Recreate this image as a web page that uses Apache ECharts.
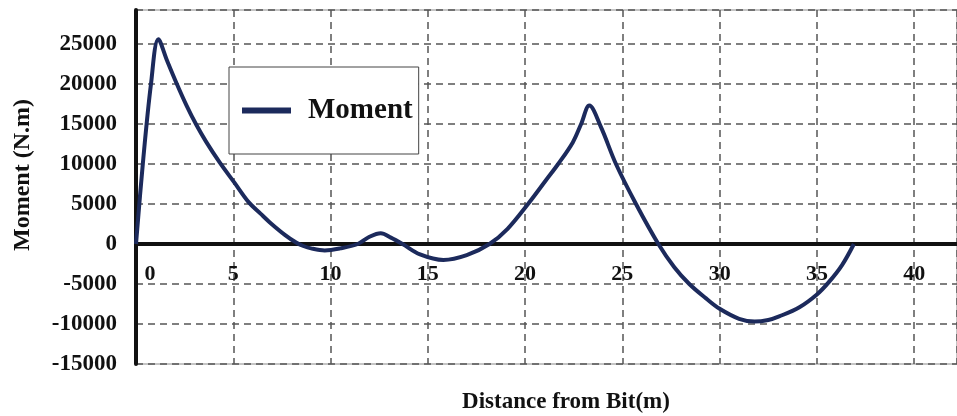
<!DOCTYPE html>
<html>
<head>
<meta charset="utf-8">
<script src="https://cdn.jsdelivr.net/npm/echarts@6/dist/echarts.min.js"></script>
<style>
html,body{margin:0;padding:0;background:#fff;}
#chart{width:957px;height:416px;}
</style>
</head>
<body>
<div id="chart"></div>
<script>
var seriesName = 'Moment';
var xTitle = 'Distance from Bit(m)';
var yTitle = 'Moment (N.m)';
var distance = [0, 0.35, 0.77, 1.15, 1.6, 2.1, 2.6, 3.1, 3.6, 4.3, 5.05, 5.8, 6.4, 6.88, 7.65, 8.25, 8.6, 9.0, 9.7, 10.5, 11.4, 12.0, 12.58, 13.1, 13.7, 14.6, 15.8, 17.0, 18.17, 19.1, 20.15, 21.08, 21.7, 22.45, 22.88, 23.3, 23.9, 24.67, 25.7, 26.85, 27.67, 28.44, 29.3, 30.0, 31.0, 31.8, 32.5, 33.06, 34.1, 35.0, 35.6, 36.3, 36.9];
var moment = [0, 10000, 20000, 25600, 22900, 20000, 17300, 14900, 12800, 10200, 7700, 5200, 3800, 2700, 1150, 150, -250, -550, -800, -550, 0, 900, 1350, 800, 0, -1300, -2000, -1400, 0, 1900, 5000, 8000, 10000, 12700, 15000, 17300, 14600, 10000, 5000, 0, -2900, -5000, -6800, -8100, -9350, -9700, -9500, -9050, -7900, -6300, -4800, -2600, 0];
var xTicks = [0, 5, 10, 15, 20, 25, 30, 35, 40];
var yTicks = [-15000, -10000, -5000, 0, 5000, 10000, 15000, 20000, 25000];

var points = distance.map(function (d, i) { return [d, moment[i]]; });
var serif = "'Liberation Serif', 'Times New Roman', serif";

var chart = echarts.init(document.getElementById('chart'), null, {renderer: 'canvas'});
chart.setOption({
  backgroundColor: '#fff',
  animation: false,
  grid: {
    left: 136, top: 10, right: -1, bottom: 52,
    show: true, borderColor: '#8a8a8a', borderWidth: 1, backgroundColor: 'transparent'
  },
  legend: {
    data: [seriesName],
    left: 229, top: 67,
    orient: 'vertical',
    padding: [29, 6, 29, 13],
    borderColor: '#444', borderWidth: 1,
    backgroundColor: '#fff',
    itemWidth: 49, itemHeight: 6,
    icon: 'rect',
    textStyle: {fontFamily: serif, fontWeight: 'bold', fontSize: 29, color: '#111', padding: [0, 0, 0, 12]}
  },
  xAxis: {
    type: 'value',
    min: 0, max: 42.2, interval: 5,
    axisLine: {onZero: true, lineStyle: {color: '#111', width: 4}},
    axisTick: {show: false},
    splitLine: {show: true, lineStyle: {color: '#555', width: 1.5, type: [7, 5]}},
    axisLabel: {
      showMaxLabel: false,
      margin: -101,
      fontFamily: serif, fontWeight: 'bold', fontSize: 22, color: '#111',
      formatter: function (v) {
        if (xTicks.indexOf(v) < 0) return '';
        return v === 0 ? '{z|0}' : String(v);
      },
      rich: {z: {fontFamily: serif, fontWeight: 'bold', fontSize: 22, color: '#111', padding: [0, 0, 0, 28]}}
    }
  },
  yAxis: {
    type: 'value',
    min: -15000, max: 29250, interval: 5000,
    axisLine: {show: true, onZero: false, lineStyle: {color: '#111', width: 4}},
    axisTick: {show: false},
    splitLine: {show: true, lineStyle: {color: '#555', width: 1.5, type: [7, 5]}},
    axisLabel: {
      showMaxLabel: false,
      margin: 19,
      fontFamily: serif, fontWeight: 'bold', fontSize: 23, color: '#111',
      formatter: function (v) { return yTicks.indexOf(v) < 0 ? '' : String(v); }
    }
  },
  graphic: [
    {type: 'text', x: 566, y: 402, style: {text: xTitle, fontFamily: serif, fontWeight: 'bold', fontSize: 23, fill: '#111', textAlign: 'center', textVerticalAlign: 'middle'}},
    {type: 'text', x: 23, y: 175, rotation: Math.PI / 2, style: {text: yTitle, fontFamily: serif, fontWeight: 'bold', fontSize: 24, fill: '#111', textAlign: 'center', textVerticalAlign: 'middle'}}
  ],
  series: [{
    name: seriesName,
    type: 'line',
    data: points,
    smooth: 0.35,
    symbol: 'none',
    lineStyle: {color: '#1c2a5c', width: 4},
    itemStyle: {color: '#1c2a5c'},
    z: 5
  }]
});
</script>
</body>
</html>
